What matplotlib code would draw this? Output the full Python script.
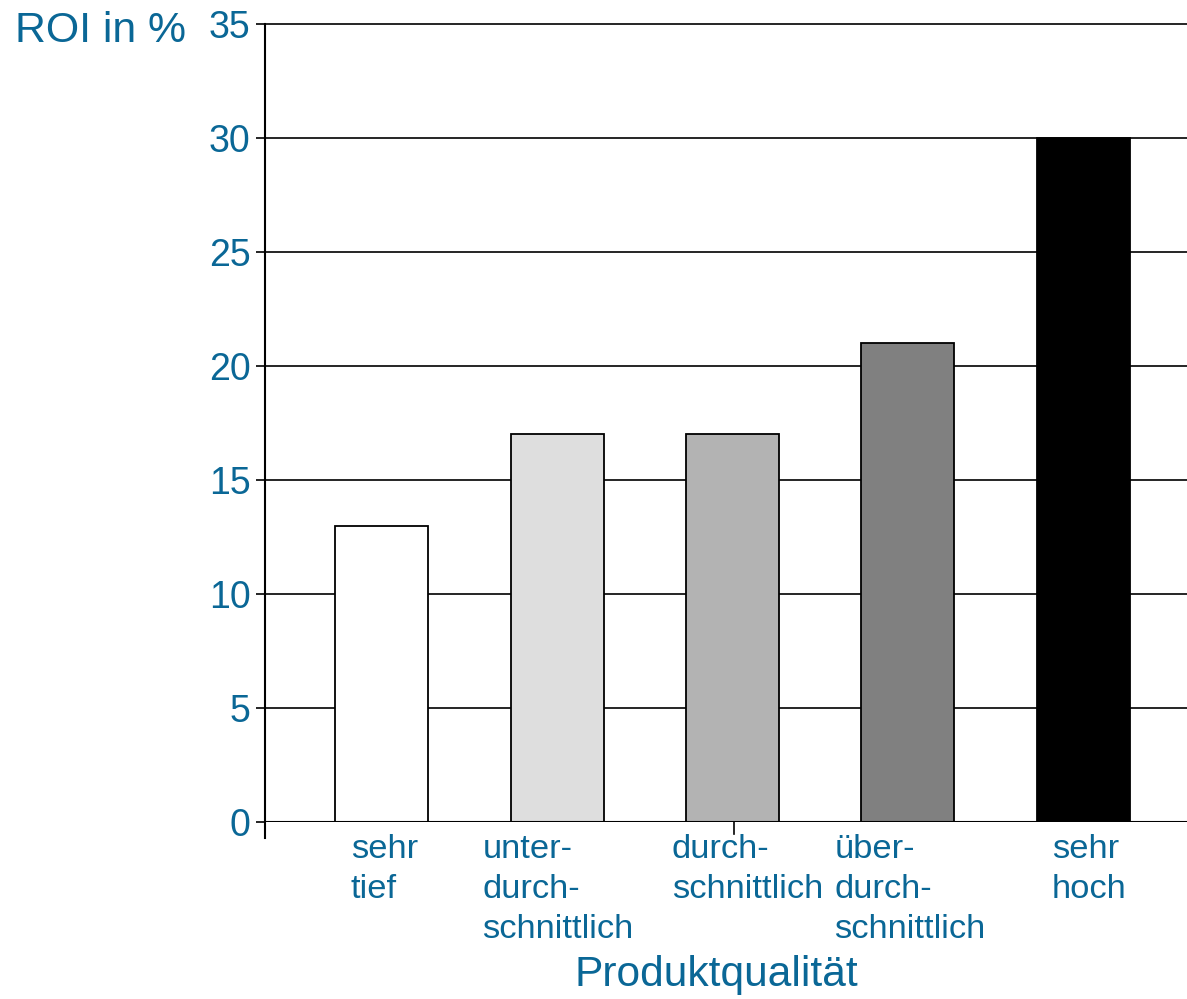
import matplotlib
matplotlib.use("Agg")
import matplotlib.pyplot as plt
import matplotlib.transforms as mtransforms

plt.rcParams['font.family'] = ['Liberation Sans', 'DejaVu Sans']

categories = ["sehr\ntief", "unter-\ndurch-\nschnittlich", "durch-\nschnittlich",
              "über-\ndurch-\nschnittlich", "sehr\nhoch"]
roi_values = [13, 17, 17, 21, 30]
bar_colors = ["#ffffff", "#dedede", "#b3b3b3", "#808080", "#000000"]
y_ticks = [0, 5, 10, 15, 20, 25, 30, 35]
label_shift_px = [3, 1, 15, 2, 6]

blue = "#0a6796"

fig = plt.figure(figsize=(11.87, 9.99), dpi=100)
ax = fig.add_axes([265 / 1187, 1 - 822 / 999, 922 / 1187, 798 / 999])

x = list(range(len(categories)))
ax.bar(x, roi_values, width=0.53, color=bar_colors, edgecolor="black",
       linewidth=1.3, zorder=3)

ax.set_xlim(-0.664, 4.59)
ax.set_ylim(0, 35)

# horizontal grid lines, including the top one at 35
for yv in y_ticks[1:]:
    ax.axhline(yv, color="black", linewidth=1.2, zorder=1, clip_on=False)
ax.axhline(0, color="black", linewidth=1.5, zorder=4)

for side in ["top", "right", "bottom"]:
    ax.spines[side].set_visible(False)
ax.spines["left"].set_linewidth(1.5)
ax.spines["left"].set_bounds(-0.7, 35)

ax.set_yticks(y_ticks)
ax.set_yticklabels([str(v) for v in y_ticks])
ax.tick_params(axis="y", direction="out", length=6.5, width=1.2, colors="black",
               labelcolor=blue, labelsize=27, pad=4)

ax.set_xticks(x)
ax.set_xticklabels(categories)
ax.tick_params(axis="x", length=0, labelcolor=blue, labelsize=24.8, pad=9)
for lbl, dx in zip(ax.get_xticklabels(), label_shift_px):
    lbl.set_multialignment("left")
    lbl.set_linespacing(1.37)
    lbl.set_transform(lbl.get_transform() +
                      mtransforms.Affine2D().translate(dx, 0))

# single tick mark under the middle category
ax.plot([2.01, 2.01], [0, -0.52], color="black", linewidth=1.2, clip_on=False,
        zorder=4)

fig.text(15 / 1187, 1 - 31 / 999, "ROI in %", color=blue, fontsize=30.8,
         ha="left", va="center")
fig.text(716 / 1187, 1 - 975 / 999, "Produktqualität", color=blue,
         fontsize=30.6, ha="center", va="center")

fig.savefig("out.png", dpi=100)
